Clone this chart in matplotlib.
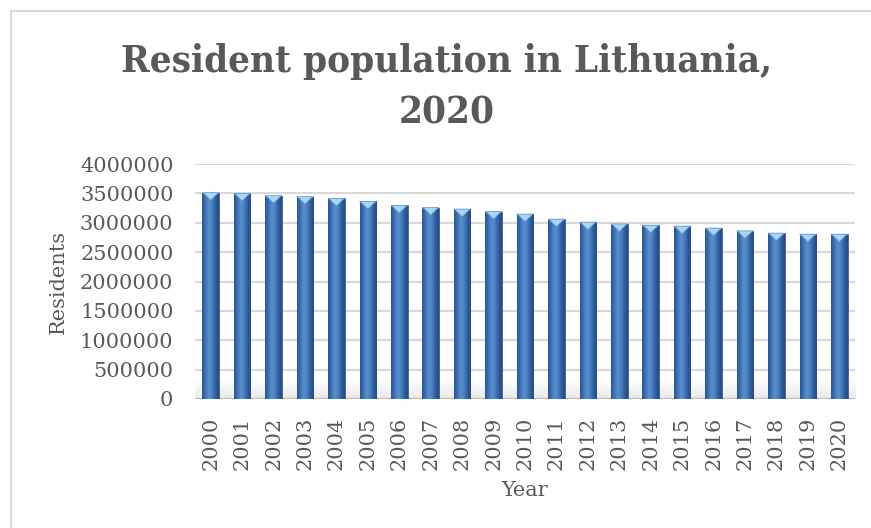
import numpy as np
import matplotlib
matplotlib.use("Agg")
import matplotlib.pyplot as plt
from matplotlib.patches import Polygon
from matplotlib.colors import LinearSegmentedColormap

years = ["2000", "2001", "2002", "2003", "2004", "2005", "2006", "2007",
         "2008", "2009", "2010", "2011", "2012", "2013", "2014", "2015",
         "2016", "2017", "2018", "2019", "2020"]
residents = [3512000, 3500000, 3462000, 3445000, 3414000, 3362000, 3294000,
             3259000, 3232000, 3191000, 3147000, 3061000, 3010000, 2980000,
             2958000, 2942000, 2908000, 2862000, 2823000, 2805000, 2805000]
y_ticks = [0, 500000, 1000000, 1500000, 2000000, 2500000, 3000000,
           3500000, 4000000]

title_lines = ["Resident population in Lithuania,", "2020"]
x_label = "Year"
y_label = "Residents"

TEXT = "#595959"
GRID = "#d9d9d9"
SERIF = ["DejaVu Serif"]

W, H, DPI = 871, 528, 100
fig = plt.figure(figsize=(W / DPI, H / DPI), dpi=DPI)
fig.patch.set_facecolor("white")

# chart frame (left and top edges visible)
fig.add_artist(plt.Line2D([11 / W, 11 / W], [0, 1 - 11 / H], color=GRID,
                          lw=1.5, transform=fig.transFigure))
fig.add_artist(plt.Line2D([11 / W, 1], [1 - 11 / H, 1 - 11 / H], color=GRID,
                          lw=1.5, transform=fig.transFigure))

ax = fig.add_axes([195 / W, (H - 399) / H, 660 / W, 235 / H])
x = np.arange(len(years))
ax.set_xlim(-0.5, len(years) - 0.5)
ax.set_ylim(0, 4000000)
ax.set_yticks(y_ticks)
ax.set_yticklabels([str(v) for v in y_ticks])
ax.set_xticks(x)
ax.set_xticklabels(years, rotation=90)
for s in ax.spines.values():
    s.set_visible(False)
ax.tick_params(axis="both", length=0, colors=TEXT, labelsize=15)
ax.tick_params(axis="y", pad=15.5)
ax.tick_params(axis="x", pad=12.5)
for lab in ax.get_xticklabels() + ax.get_yticklabels():
    lab.set_family(SERIF)
ax.yaxis.grid(True, color=GRID, lw=1.6, zorder=0)
ax.set_axisbelow(True)

# floor line
ax.axhline(0, color="#c8c8c8", lw=2, zorder=1)

# bars with a horizontal shading across each column
bar_w = 0.53
bar_cmap = LinearSegmentedColormap.from_list(
    "col", ["#2a5590", "#3f72b4", "#5a8fd0", "#4a7fc2", "#2f5f9c", "#254c82"])
grad = np.linspace(0, 1, 64).reshape(1, -1)

# px -> data conversion for the cap and floor shading
px_y = 4000000 / 235.0

# soft floor shading under the columns
floor = np.linspace(0, 1, 32).reshape(-1, 1)
ax.imshow(np.dstack([np.full((32, 1), 0.6)] * 3 + [0.22 * floor]),
          extent=(-0.5, len(years) - 0.5, 0, 20 * px_y),
          aspect="auto", zorder=1, interpolation="bilinear")

bars = ax.bar(x, residents, width=bar_w, color="none", edgecolor="#2b4f80",
              lw=0.6, zorder=3)
for b, xi, v in zip(bars, x, residents):
    im = ax.imshow(grad, cmap=bar_cmap, aspect="auto",
                   extent=(xi - bar_w / 2, xi + bar_w / 2, 0, v),
                   zorder=3, interpolation="bilinear")
    im.set_clip_path(b)
    cap_d = 7.5 * px_y
    cap = Polygon([(xi - bar_w / 2, v), (xi + bar_w / 2, v),
                   (xi + bar_w / 2 - 0.06, v - 1.2 * px_y),
                   (xi, v - cap_d),
                   (xi - bar_w / 2 + 0.06, v - 1.2 * px_y)],
                  closed=True, facecolor="#a9d6f6", edgecolor="#6f9fd0",
                  lw=0.6, zorder=4)
    ax.add_patch(cap)
ax.set_xlim(-0.5, len(years) - 0.5)
ax.set_ylim(0, 4000000)

# axis titles
fig.text(58 / W, 1 - 282 / H, y_label, rotation=90, ha="center", va="center",
         color=TEXT, fontsize=15, family=SERIF)
fig.text(525 / W, 1 - 491 / H, x_label, ha="center", va="center",
         color=TEXT, fontsize=15, family=SERIF)

# two-line bold title, first line sized to span the chart width
t1 = fig.text(447 / W, 1 - 72 / H, title_lines[0], ha="center", va="baseline",
              color=TEXT, fontsize=30, fontweight="bold", family=SERIF,
              fontstretch="condensed")
fig.canvas.draw()
wpx = t1.get_window_extent().width
fs = 30 * 650.0 / wpx
t1.set_fontsize(fs)
fig.text(447 / W, 1 - 123 / H, title_lines[1], ha="center", va="baseline",
         color=TEXT, fontsize=fs, fontweight="bold", family=SERIF,
         fontstretch="condensed")

fig.savefig("out.png", dpi=DPI)
